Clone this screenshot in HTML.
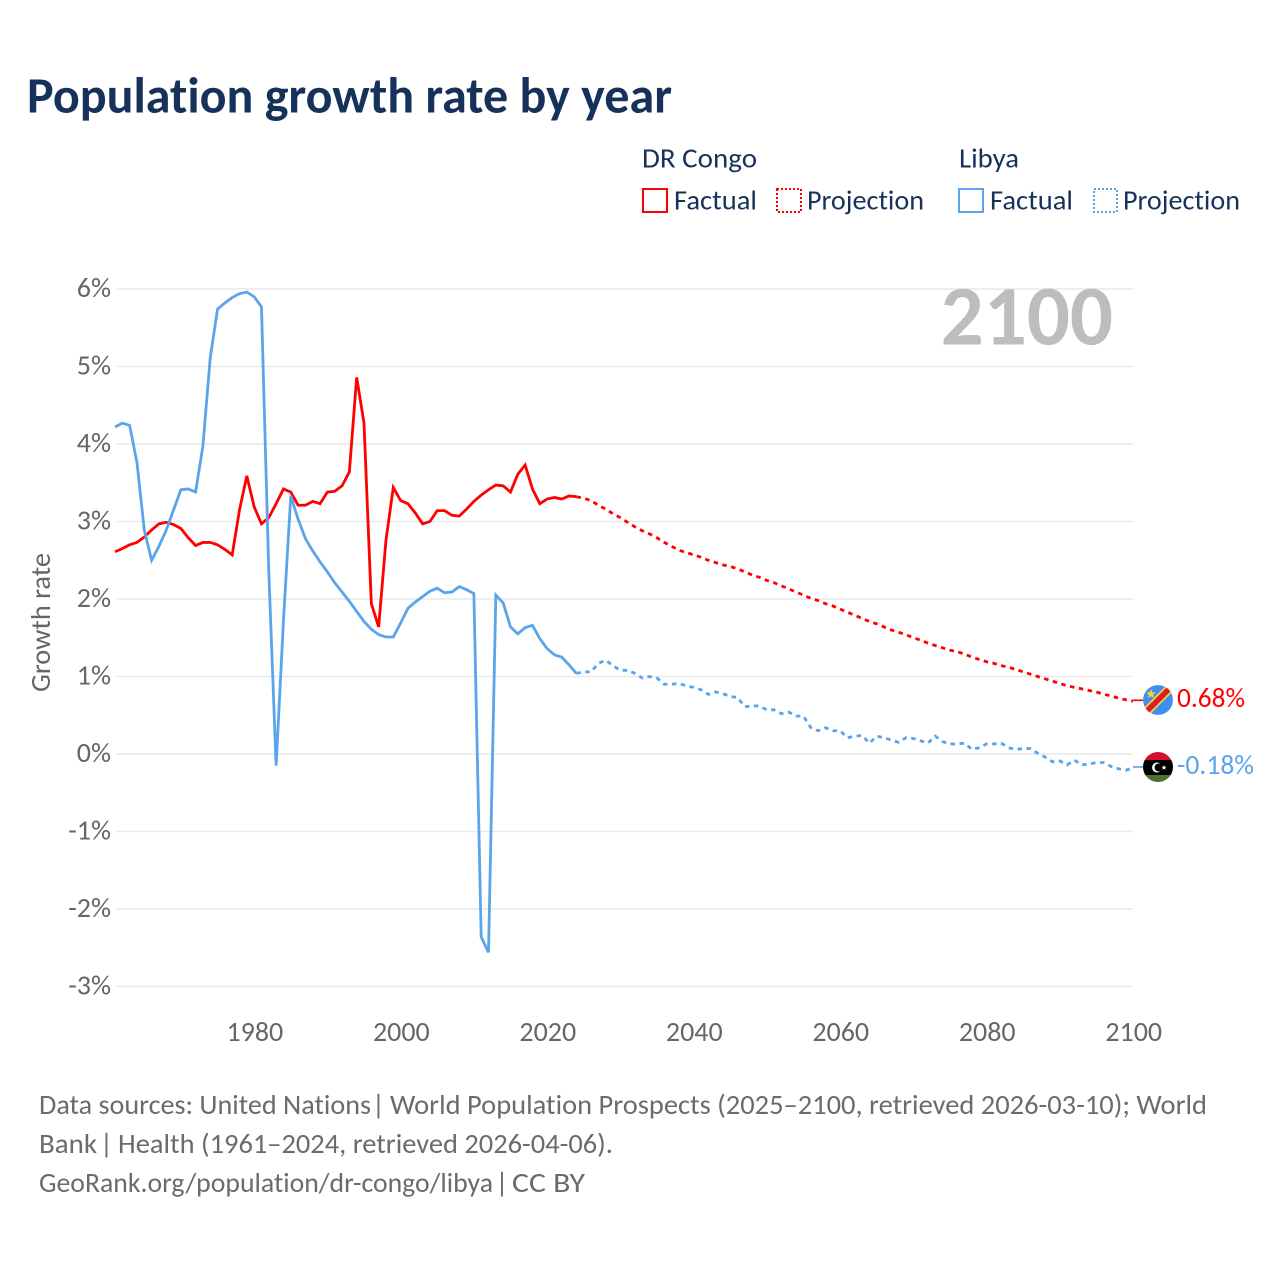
<!DOCTYPE html>
<html lang="en">
<head>
<meta charset="utf-8">
<title>Population growth rate by year</title>
<style>
html,body{margin:0;padding:0;background:#fff;width:1280px;height:1280px;overflow:hidden}
svg{display:block}
text{font-family:"Carlito","Lato","Liberation Sans",sans-serif;font-variant-ligatures:none;font-feature-settings:"liga" 0,"clig" 0}
</style>
</head>
<body>
<svg id="chart" xmlns="http://www.w3.org/2000/svg" width="1280" height="1280" viewBox="0 0 1280 1280">
  <defs>
    <clipPath id="flag-clip-a"><circle cx="1158" cy="700" r="15"/></clipPath>
    <clipPath id="flag-clip-b"><circle cx="1158" cy="767" r="15"/></clipPath>
  </defs>
  <rect x="0" y="0" width="1280" height="1280" fill="#fff"/>
  <text x="27" y="112.5" font-size="51" font-weight="700" fill="#17325a" textLength="645" lengthAdjust="spacingAndGlyphs">Population growth rate by year</text>

  <g font-size="28" fill="#17325a">
    <text x="642" y="167.5" textLength="115" lengthAdjust="spacingAndGlyphs">DR Congo</text>
    <text x="959" y="167.5" textLength="60" lengthAdjust="spacingAndGlyphs">Libya</text>
    <rect x="643" y="189" width="24" height="23" fill="none" stroke="#ff0000" stroke-width="2"/>
    <text x="674" y="209.5" textLength="83" lengthAdjust="spacingAndGlyphs">Factual</text>
    <rect x="777" y="189" width="24" height="23" fill="none" stroke="#ff0000" stroke-width="2" stroke-dasharray="2 2"/>
    <text x="807" y="209.5" textLength="117" lengthAdjust="spacingAndGlyphs">Projection</text>
    <rect x="959" y="189" width="24" height="23" fill="none" stroke="#5ba4ec" stroke-width="2"/>
    <text x="990" y="209.5" textLength="83" lengthAdjust="spacingAndGlyphs">Factual</text>
    <rect x="1094" y="189" width="23" height="23" fill="none" stroke="#5ba4ec" stroke-width="2" stroke-dasharray="2 2"/>
    <text x="1123" y="209.5" textLength="117" lengthAdjust="spacingAndGlyphs">Projection</text>
  </g>

  <g id="grid"></g>
  <g id="y-ticks"></g>
  <g id="x-ticks"></g>

  <text transform="translate(50,692) rotate(-90)" font-size="28" fill="#666" textLength="139" lengthAdjust="spacingAndGlyphs">Growth rate</text>

  <text x="1113" y="344.5" text-anchor="end" font-size="85" font-weight="700" fill="#bdbdbd">2100</text>

  <g id="series"></g>

  <g clip-path="url(#flag-clip-a)">
    <circle cx="1158" cy="700" r="15" fill="#3e8ff0"/>
    <line x1="1140" y1="718" x2="1176" y2="682" stroke="#f7d038" stroke-width="9"/>
    <line x1="1140" y1="718" x2="1176" y2="682" stroke="#d8202a" stroke-width="5.5"/>
    <polygon points="1151,689 1152.4,692.2 1155.8,692.5 1153.2,694.7 1154,698 1151,696.2 1148,698 1148.8,694.7 1146.2,692.5 1149.6,692.2" fill="#f7d038"/>
  </g>
  <g clip-path="url(#flag-clip-b)">
    <rect x="1143" y="752" width="30" height="8" fill="#d5102e"/>
    <rect x="1143" y="760" width="30" height="15" fill="#000"/>
    <rect x="1143" y="775" width="30" height="8" fill="#4a7032"/>
    <circle cx="1157" cy="767.5" r="5" fill="#fff"/>
    <circle cx="1158.6" cy="767.5" r="4" fill="#000"/>
    <polygon points="1164,765 1164.7,766.7 1166.5,766.8 1165.1,768 1165.6,769.8 1164,768.8 1162.4,769.8 1162.9,768 1161.5,766.8 1163.3,766.7" fill="#fff"/>
  </g>

  <text id="label-congo" x="1177" y="707" font-size="28" fill="#ff0000" textLength="68" lengthAdjust="spacingAndGlyphs">0.68%</text>
  <text id="label-libya" x="1177" y="774" font-size="28" fill="#5ba4ec" textLength="77" lengthAdjust="spacingAndGlyphs">-0.18%</text>

  <g font-size="28" fill="#6b6b6b">
    <g>
      <text x="39" y="1114" textLength="332" lengthAdjust="spacingAndGlyphs">Data sources: United Nations</text>
      <text x="372" y="1114">|</text>
      <text x="390" y="1114" textLength="817" lengthAdjust="spacingAndGlyphs">World Population Prospects (2025–2100, retrieved 2026-03-10); World</text>
    </g>
    <g>
      <text x="39" y="1153" textLength="58" lengthAdjust="spacingAndGlyphs">Bank</text>
      <text x="100" y="1153">|</text>
      <text x="118" y="1153" textLength="495" lengthAdjust="spacingAndGlyphs">Health (1961–2024, retrieved 2026-04-06).</text>
    </g>
    <g>
      <text x="39" y="1192" textLength="454" lengthAdjust="spacingAndGlyphs">GeoRank.org/population/dr-congo/libya</text>
      <text x="495.5" y="1192">|</text>
      <text x="512" y="1192" textLength="73" lengthAdjust="spacingAndGlyphs">CC BY</text>
    </g>
  </g>
</svg>
<script>
var firstYear = 1961;
var lastFactualYear = 2024;
var yTickValues = [6, 5, 4, 3, 2, 1, 0, -1, -2, -3];
var yTickLabels = ["6%", "5%", "4%", "3%", "2%", "1%", "0%", "-1%", "-2%", "-3%"];
var xTickValues = [1980, 2000, 2020, 2040, 2060, 2080, 2100];
var xTickLabels = ["1980", "2000", "2020", "2040", "2060", "2080", "2100"];

var congoFactual = [2.61,2.65,2.70,2.73,2.80,2.89,2.97,2.99,2.96,2.91,2.79,2.69,2.73,2.73,2.70,2.64,2.57,3.15,3.59,3.19,2.97,3.05,3.23,3.42,3.38,3.21,3.21,3.26,3.23,3.38,3.39,3.46,3.64,4.86,4.27,1.94,1.64,2.76,3.44,3.27,3.23,3.11,2.97,3.00,3.14,3.14,3.08,3.07,3.16,3.26,3.34,3.41,3.47,3.46,3.38,3.61,3.73,3.42,3.23,3.29,3.31,3.29,3.33,3.32];
var congoProjection = [3.30,3.27,3.21,3.16,3.10,3.05,2.99,2.93,2.88,2.84,2.79,2.73,2.68,2.63,2.60,2.57,2.54,2.50,2.47,2.44,2.42,2.39,2.35,2.31,2.28,2.24,2.21,2.17,2.13,2.09,2.05,2.01,1.98,1.94,1.91,1.87,1.83,1.79,1.75,1.71,1.68,1.64,1.60,1.57,1.54,1.50,1.47,1.43,1.40,1.37,1.34,1.32,1.29,1.25,1.22,1.19,1.17,1.14,1.12,1.09,1.06,1.03,1.00,0.97,0.94,0.91,0.88,0.86,0.84,0.82,0.80,0.77,0.75,0.72,0.70,0.68];
var libyaFactual = [4.22,4.27,4.24,3.76,2.89,2.50,2.68,2.89,3.15,3.41,3.42,3.38,3.97,5.11,5.74,5.82,5.89,5.94,5.96,5.90,5.77,2.35,-0.15,1.72,3.33,3.03,2.78,2.62,2.48,2.35,2.21,2.09,1.97,1.84,1.71,1.61,1.54,1.51,1.51,1.69,1.88,1.96,2.03,2.10,2.14,2.08,2.09,2.16,2.12,2.07,-2.36,-2.56,2.05,1.95,1.64,1.55,1.63,1.66,1.49,1.36,1.28,1.25,1.15,1.04];
var libyaProjection = [1.06,1.06,1.17,1.21,1.14,1.08,1.08,1.04,0.98,1.00,0.98,0.90,0.90,0.91,0.88,0.86,0.83,0.77,0.80,0.78,0.74,0.73,0.61,0.62,0.62,0.57,0.57,0.52,0.54,0.49,0.49,0.34,0.30,0.34,0.30,0.30,0.21,0.23,0.24,0.14,0.23,0.21,0.18,0.15,0.21,0.20,0.17,0.14,0.23,0.16,0.13,0.13,0.14,0.06,0.08,0.13,0.13,0.14,0.08,0.06,0.07,0.07,0.01,-0.04,-0.10,-0.09,-0.14,-0.08,-0.14,-0.13,-0.11,-0.11,-0.16,-0.19,-0.21,-0.18];

var SVGNS = "http://www.w3.org/2000/svg";
function xScale(year) { return 115 + (year - 1961) * (1133 - 115) / (2100 - 1961); }
function yScale(value) { return 754 - value * 77.5; }

function make(tag, parent, attrs) {
  var el = document.createElementNS(SVGNS, tag);
  for (var k in attrs) { el.setAttribute(k, attrs[k]); }
  parent.appendChild(el);
  return el;
}

var grid = document.getElementById("grid");
var yTicks = document.getElementById("y-ticks");
var xTicks = document.getElementById("x-ticks");
var series = document.getElementById("series");

yTickValues.forEach(function (v, i) {
  var line = make("line", grid, { x1: 116, x2: 1133, y1: yScale(v), y2: yScale(v), stroke: "#e9e9e9", "stroke-width": 1.5 });
  
  
  var t = make("text", yTicks, { x: 111, y: yScale(v) + 8, "text-anchor": "end", "font-size": 28, fill: "#666" });
  
  
  t.textContent = yTickLabels[i];
});

xTickValues.forEach(function (v, i) {
  var t = make("text", xTicks, { x: xScale(v) + 0.7, y: 1041, "text-anchor": "middle", "font-size": 28, fill: "#666" });
  
  
  t.textContent = xTickLabels[i];
});

function pathFrom(startYear, values) {
  return values.map(function (v, i) {
    return (i ? "L" : "M") + xScale(startYear + i).toFixed(2) + " " + yScale(v).toFixed(2);
  }).join(" ");
}

function drawSeries(factual, projection, color) {
  var solid = make("path", series, { d: pathFrom(firstYear, factual), fill: "none", stroke: color, "stroke-width": 2.8, "stroke-linejoin": "miter" });
  
  
  var bridged = [factual[factual.length - 1]].concat(projection);
  var dashed = make("path", series, { d: pathFrom(lastFactualYear, bridged), fill: "none", stroke: color, "stroke-width": 2.8, "stroke-dasharray": "4.5 4.5" });
  
  
  var endValue = projection[projection.length - 1];
  var stub = make("line", series, { x1: xScale(2100), x2: xScale(2100) + 10, y1: yScale(endValue) - 1, y2: yScale(endValue) - 1, stroke: color, "stroke-width": 1.6 });
  
  
}

drawSeries(congoFactual, congoProjection, "#ff0000");
drawSeries(libyaFactual, libyaProjection, "#5ba4ec");
</script>
</body>
</html>
